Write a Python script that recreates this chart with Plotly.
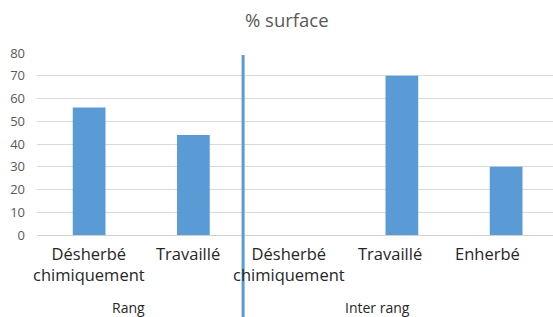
import plotly.graph_objects as go

categories = ["Désherbé<br>chimiquement", "Travaillé", "Désherbé<br>chimiquement", "Travaillé", "Enherbé"]
groups = ["Rang", "Rang", "Inter rang", "Inter rang", "Inter rang"]
values = [56, 44, 0, 70, 30]
y_ticks = [0, 10, 20, 30, 40, 50, 60, 70, 80]

W, H = 553, 317
L, R, T, B = 37, 0, 53, 82
step = 104.25
x_right = -0.5 + (W - L - R) / step
ppu = H - T - B

bar_color = "#5b9bd5"
idx = list(range(len(categories)))

fig = go.Figure()
fig.add_trace(go.Bar(x=idx, y=values, marker=dict(color=bar_color, line=dict(width=0)),
                     hoverinfo="skip"))

# category labels
label_shift = [0, -5, -9, -12, -19]
for i, (c, s) in enumerate(zip(categories, label_shift)):
    fig.add_annotation(x=i, y=0, xref="x", yref="y", text=c, showarrow=False,
                       xanchor="center", yanchor="top", yshift=-5, xshift=s,
                       font=dict(family="Open Sans", size=16.5, color="#262626"))

# group labels
group_names = []
for g in groups:
    if g not in group_names:
        group_names.append(g)
group_px = {"Rang": 128, "Inter rang": 377}
for g in group_names:
    fig.add_annotation(x=(group_px[g] - L) / (W - L - R), y=(H - B - 307) / ppu,
                       xref="paper", yref="paper",
                       text=g, showarrow=False, xanchor="center", yanchor="middle",
                       font=dict(family="Open Sans", size=14, color="#262626"))

# separator line
fig.add_shape(type="line", xref="x", yref="paper", x0=1.477, x1=1.477,
              y0=(H - B - H) / ppu, y1=(H - B - 55) / ppu,
              line=dict(color=bar_color, width=3))

# title
fig.add_annotation(x=(287 - L) / (W - L - R), y=(H - B - 20) / ppu, xref="paper", yref="paper",
                   text="% surface", showarrow=False, xanchor="center", yanchor="middle",
                   font=dict(family="Open Sans", size=18.5, color="#595959"))

fig.update_layout(
    width=W, height=H,
    margin=dict(l=L, r=R, t=T, b=B),
    paper_bgcolor="white", plot_bgcolor="white",
    bargap=0.686, showlegend=False,
    xaxis=dict(range=[-0.5, x_right], showticklabels=False, showgrid=False,
               zeroline=False, showline=False, ticks=""),
    yaxis=dict(range=[0, 80], tickvals=y_ticks, showgrid=True, gridcolor="#d9d9d9",
               gridwidth=1, zeroline=True, zerolinecolor="#d0d0d0", zerolinewidth=1,
               showline=False, ticks="", ticklabelstandoff=11,
               tickfont=dict(family="Open Sans", size=13, color="#595959")),
)

fig.write_html("out.html", config={"displayModeBar": False},
               post_script="document.body.style.margin='0';document.body.style.overflow='hidden';")
